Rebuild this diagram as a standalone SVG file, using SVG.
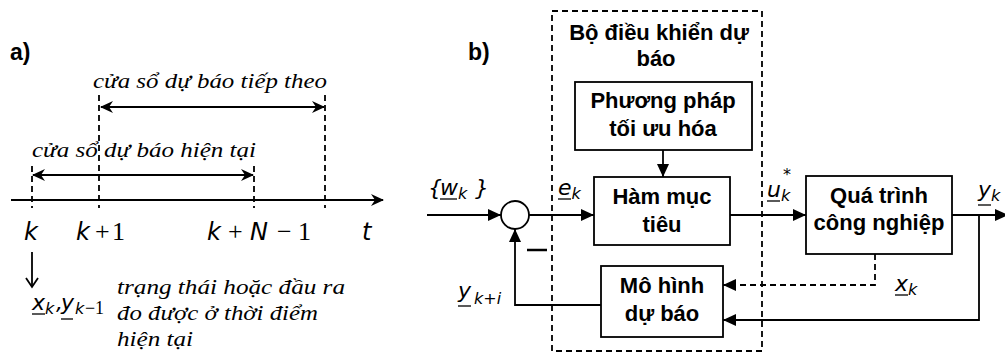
<svg xmlns="http://www.w3.org/2000/svg" width="1005" height="360" viewBox="0 0 1005 360">
<style>
.lbl{font-family:"Liberation Sans",Arial,sans-serif;font-weight:bold;font-size:23px;fill:#000}
.it{font-family:"Liberation Serif","Times New Roman",serif;font-style:italic;font-size:21px;fill:#000}
.m{font-family:"DejaVu Sans",sans-serif;font-style:italic;font-size:22px;fill:#000}
.ma{font-family:"DejaVu Sans",sans-serif;font-style:italic;font-size:24px;fill:#000}
.ms{font-family:"DejaVu Sans",sans-serif;font-style:italic;font-size:16px}
.num{font-family:"Liberation Serif","Times New Roman",serif;font-style:normal;font-size:26px}
.nums{font-family:"Liberation Serif","Times New Roman",serif;font-style:normal;font-size:18px}
.bt{font-family:"Liberation Sans",Arial,sans-serif;font-weight:bold;font-size:22px;fill:#000;text-anchor:middle}
.ln{stroke:#000;stroke-width:1.8;fill:none}
.tl{stroke:#000;stroke-width:2;fill:none}
.dash{stroke:#000;stroke-width:1.8;fill:none;stroke-dasharray:6 4}
.box{stroke:#000;stroke-width:1.8;fill:#fff}
.ul{stroke:#000;stroke-width:1.3}
</style>
<defs>
<marker id="st" markerUnits="userSpaceOnUse" markerWidth="16" markerHeight="14" refX="13" refY="7" orient="auto-start-reverse" viewBox="0 0 16 14">
<path d="M1,1 L14,7 L1,13 L5,7 z" fill="#000"/>
</marker>
<marker id="ar" markerUnits="userSpaceOnUse" markerWidth="14" markerHeight="12" refX="13" refY="6" orient="auto" viewBox="0 0 14 12">
<path d="M0,0 L13,6 L0,12 z" fill="#000"/>
</marker>
</defs>

<!-- Part a -->
<g id="part-a">
<text class="lbl" x="10" y="60">a)</text>
<text class="it" x="93" y="88" textLength="234" lengthAdjust="spacingAndGlyphs">cửa sổ dự báo tiếp theo</text>
<text class="it" x="32" y="157" textLength="224" lengthAdjust="spacingAndGlyphs">cửa sổ dự báo hiện tại</text>
<line class="dash" x1="99" y1="95" x2="99" y2="208"/>
<line class="dash" x1="325" y1="95" x2="325" y2="208"/>
<line class="dash" x1="32" y1="166" x2="32" y2="208"/>
<line class="dash" x1="254" y1="166" x2="254" y2="208"/>
<line class="tl" x1="101" y1="107" x2="324" y2="107" marker-start="url(#st)" marker-end="url(#st)"/>
<line class="tl" x1="33" y1="175" x2="253" y2="175" marker-start="url(#st)" marker-end="url(#st)"/>
<line class="tl" x1="11" y1="200" x2="383" y2="200" marker-end="url(#st)"/>
<text class="ma" x="24" y="240">k</text>
<text class="ma" y="240"><tspan x="76">k</tspan><tspan class="num" x="95">+</tspan><tspan class="num" x="112">1</tspan></text>
<text class="ma" y="240"><tspan x="207">k</tspan><tspan class="num" x="228">+</tspan><tspan x="250">N</tspan><tspan class="num" x="277">−</tspan><tspan class="num" x="298">1</tspan></text>
<text class="ma" x="362" y="240">t</text>
<line class="ln" x1="32" y1="252" x2="32" y2="287"/>
<path class="ln" d="M26,278 L32,287 L38,278"/>
<text class="m" y="310"><tspan x="32">x</tspan><tspan class="ms" x="45" dy="4">k</tspan><tspan x="56" dy="-4">,</tspan><tspan x="61">y</tspan><tspan class="ms" x="75" dy="4">k</tspan><tspan class="nums" x="85">−</tspan><tspan class="nums" x="95">1</tspan></text>
<line class="ul" x1="32" y1="314" x2="45" y2="314"/>
<line class="ul" x1="61" y1="319" x2="73" y2="319"/>
<text class="it" x="117" y="294" textLength="228" lengthAdjust="spacingAndGlyphs">trạng thái hoặc đầu ra</text>
<text class="it" x="117" y="320" textLength="201" lengthAdjust="spacingAndGlyphs">đo được ở thời điểm</text>
<text class="it" x="117" y="346" textLength="76" lengthAdjust="spacingAndGlyphs">hiện tại</text>
</g>

<!-- Part b -->
<text class="lbl" x="468" y="60">b)</text>
<g id="controller">
<rect class="dash" x="552" y="11" width="210" height="340"/>
<text class="bt" x="659" y="40">Bộ điều khiển dự</text>
<text class="bt" x="656" y="66">báo</text>
</g>
<g id="optim">
<rect class="box" x="575" y="82" width="177" height="68"/>
<text class="bt" x="663" y="108">Phương pháp</text>
<text class="bt" x="663" y="136">tối ưu hóa</text>
</g>
<g id="objective">
<rect class="box" x="594" y="177" width="136" height="68"/>
<text class="bt" x="662" y="204">Hàm mục</text>
<text class="bt" x="662" y="232">tiêu</text>
</g>
<g id="model">
<rect class="box" x="601" y="266" width="122" height="71"/>
<text class="bt" x="662" y="293">Mô hình</text>
<text class="bt" x="662" y="321">dự báo</text>
</g>
<g id="process">
<rect class="box" x="806" y="176" width="146" height="78"/>
<text class="bt" x="879" y="203">Quá trình</text>
<text class="bt" x="879" y="230">công nghiệp</text>
</g>
<g id="sum">
<circle cx="515" cy="215" r="14" fill="#fff" stroke="#000" stroke-width="1.8"/>
</g>
<g id="connectors">
<line class="ln" x1="663" y1="150" x2="663" y2="177" marker-end="url(#ar)"/>
<line class="ln" x1="427" y1="215" x2="501" y2="215" marker-end="url(#ar)"/>
<line class="ln" x1="529" y1="215" x2="594" y2="215" marker-end="url(#ar)"/>
<polyline class="ln" points="601,305 515,305 515,229" marker-end="url(#ar)"/>
<line class="ln" x1="730" y1="215" x2="806" y2="215" marker-end="url(#ar)"/>
<line class="ln" x1="952" y1="215" x2="1008" y2="215" marker-end="url(#ar)"/>
<polyline class="ln" points="979,215 979,320 723,320" marker-end="url(#ar)"/>
<polyline class="dash" points="875,254 875,285 723,285" marker-end="url(#ar)"/>
<line x1="527" y1="250" x2="547" y2="250" stroke="#000" stroke-width="2.5"/>
</g>
<g id="labels">
<text class="m" y="195"><tspan x="428">{</tspan><tspan x="440">w</tspan><tspan class="ms" x="458" dy="4">k</tspan><tspan x="475" dy="-4">}</tspan></text>
<line class="ul" x1="440" y1="199" x2="457" y2="199"/>
<text class="m" x="558" y="195">e<tspan class="ms" dy="4">k</tspan></text>
<line class="ul" x1="558" y1="199" x2="571" y2="199"/>
<text class="m" x="767" y="197">u<tspan class="ms" dy="4">k</tspan><tspan class="ms" x="783" dy="-21" font-size="14">*</tspan></text>
<line class="ul" x1="767" y1="201" x2="780" y2="201"/>
<text class="m" x="978" y="197">y<tspan class="ms" dy="4">k</tspan></text>
<line class="ul" x1="978" y1="205" x2="991" y2="205"/>
<text class="m" x="895" y="291">x<tspan class="ms" dy="4">k</tspan></text>
<line class="ul" x1="895" y1="295" x2="908" y2="295"/>
<text class="m" x="458" y="298">y<tspan class="ms" x="474" dy="6">k+i</tspan></text>
<line class="ul" x1="458" y1="306" x2="471" y2="306"/>
</g>
</svg>
